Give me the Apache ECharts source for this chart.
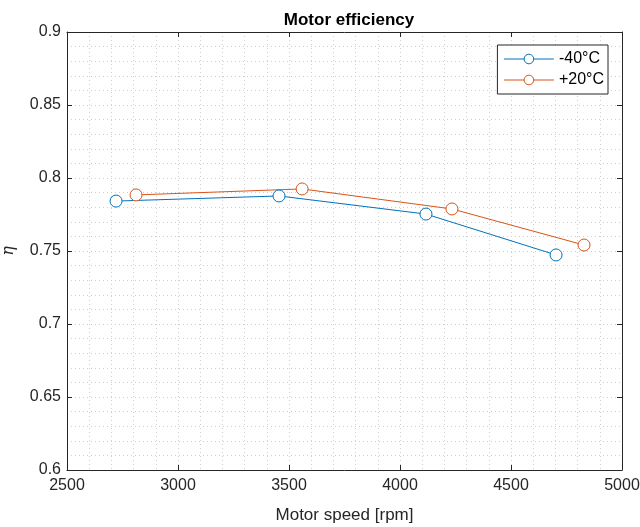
<!DOCTYPE html>
<html>
<head>
<meta charset="utf-8">
<script src="https://cdn.jsdelivr.net/npm/echarts@6/dist/echarts.min.js"></script>
<style>
  html, body { margin: 0; padding: 0; background: #ffffff; }
  #chart { width: 640px; height: 527px; }
</style>
</head>
<body>
<div id="chart"></div>
<script>
// Motor efficiency measured at two ambient temperatures
const speedCold = [2721, 3455, 4117, 4703];
const etaCold   = [0.7842, 0.7877, 0.7753, 0.7473];
const speedWarm = [2811, 3559, 4234, 4829];
const etaWarm   = [0.7884, 0.7925, 0.7788, 0.7541];
const seriesNames = ['-40°C', '+20°C'];
const seriesColors = ['#0072BD', '#D95319'];

const FONT = 'Liberation Sans, Arial, Helvetica, sans-serif';
const chart = echarts.init(document.getElementById('chart'), null, { renderer: 'canvas' });

const pairs = (xs, ys) => xs.map((x, i) => [x, ys[i]]);

const dotted = { show: true, lineStyle: { color: '#cfcfcf', type: [1, 3], width: 1 } };

const baseX = {
  type: 'value', min: 2500, max: 5000, interval: 500,
  axisLine: { show: true, onZero: false, lineStyle: { color: '#262626', width: 1 } },
  axisTick: { show: true, inside: true, length: 5, lineStyle: { color: '#262626' } },
  minorTick: { show: false, splitNumber: 5 },
  minorSplitLine: dotted
};
const baseY = {
  type: 'value', min: 0.6, max: 0.9, interval: 0.05,
  axisLine: { show: true, onZero: false, lineStyle: { color: '#262626', width: 1 } },
  axisTick: { show: true, inside: true, length: 5, lineStyle: { color: '#262626' } },
  minorTick: { show: false, splitNumber: 5 },
  minorSplitLine: dotted
};

// hollow circle markers with a thin outline
const makeSeries = (name, xs, ys, color) => ({
  name, type: 'line',
  data: pairs(xs, ys),
  symbol: 'circle', symbolSize: 12,
  color,
  lineStyle: { width: 1, color },
  itemStyle: { color: '#ffffff', borderColor: color, borderWidth: 1 }
});

chart.setOption({
  backgroundColor: '#ffffff',
  animation: false,
  title: {
    text: 'Motor efficiency',
    left: 344, top: 7, textAlign: 'center',
    textStyle: { fontFamily: FONT, fontSize: 17, fontWeight: 'bold', color: '#000' }
  },
  legend: {
    data: seriesNames,
    orient: 'vertical',
    right: 32, top: 45,
    itemWidth: 50, itemHeight: 12, itemGap: 5,
    padding: [6, 4, 6, 6],
    borderColor: '#262626', borderWidth: 1, borderRadius: 0,
    backgroundColor: '#ffffff',
    lineStyle: { width: 1 },
    itemStyle: { color: '#ffffff', borderWidth: 1 },
    textStyle: { fontFamily: FONT, fontSize: 16, color: '#000', padding: [0, 0, 0, 0] }
  },
  grid: { left: 67, right: 18, top: 32, bottom: 57, containLabel: false, outerBoundsMode: 'none' },
  xAxis: [
    Object.assign({}, baseX, {
      position: 'bottom',
      name: 'Motor speed [rpm]', nameLocation: 'middle', nameGap: 37,
      nameTextStyle: { fontFamily: FONT, fontSize: 17, color: '#262626' },
      axisLabel: { fontFamily: FONT, fontSize: 16, color: '#262626', margin: 8, formatter: v => String(v) },
      splitLine: dotted
    }),
    Object.assign({}, baseX, {
      position: 'top',
      axisLabel: { show: false },
      splitLine: { show: false }, minorSplitLine: { show: false }
    })
  ],
  yAxis: [
    Object.assign({}, baseY, {
      position: 'left',
      name: 'η', nameLocation: 'middle', nameGap: 50,
      nameTextStyle: { fontFamily: 'DejaVu Serif, serif', fontStyle: 'italic', fontSize: 16, color: '#262626' },
      axisLabel: {
        fontFamily: FONT, fontSize: 16, color: '#262626', margin: 6,
        formatter: v => String(Number(v.toFixed(2)))
      },
      splitLine: dotted
    }),
    Object.assign({}, baseY, {
      position: 'right',
      axisLabel: { show: false },
      splitLine: { show: false }, minorSplitLine: { show: false }
    })
  ],
  series: [
    makeSeries(seriesNames[0], speedCold, etaCold, seriesColors[0]),
    makeSeries(seriesNames[1], speedWarm, etaWarm, seriesColors[1])
  ]
});
</script>
</body>
</html>
